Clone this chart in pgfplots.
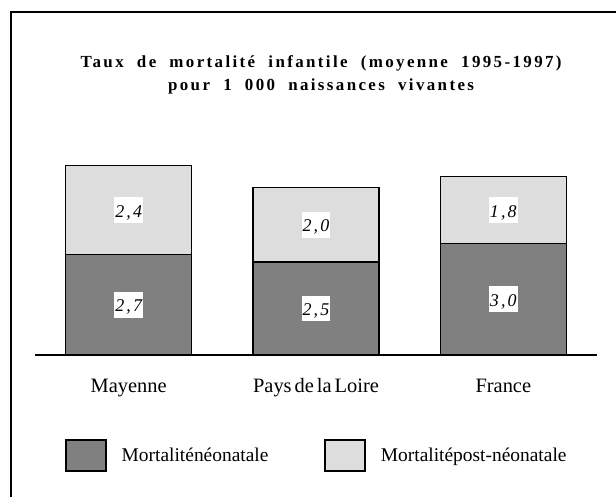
\documentclass[border=0pt]{standalone}
\usepackage{fontspec}
\setmainfont{Liberation Serif}
\newfontfamily\titlefont[LetterSpace=14, WordSpace=2.0]{Liberation Serif}
\newfontfamily\labfont[LetterSpace=12]{Liberation Serif}
\usepackage{pgfplots}
\pgfplotsset{compat=1.18}
\definecolor{darkbar}{HTML}{808080}
\definecolor{lightbar}{HTML}{DDDDDD}
\pgfplotsset{boxlegend/.style={legend image code/.code={\draw[#1] (0bp,-15.5bp) rectangle (40bp,15.5bp);}}}
\begin{document}
\begin{tikzpicture}
\path[use as bounding box] (0,0) rectangle (616bp,497bp);
\draw[line width=1.6bp] (11bp,-2bp) -- (11bp,485bp) -- (620bp,485bp);
\begin{axis}[
  at={(35bp,142bp)}, anchor=south west,
  scale only axis, width=562bp, height=223.2bp,
  xmin=-0.5, xmax=2.5, ymin=0, ymax=6,
  ybar stacked, bar width=126bp,
  axis x line=bottom, axis y line=none,
  axis line style={-, line width=1.5bp},
  xtick={0,1,2},
  xticklabels={Mayenne, Pays\hspace{3bp}de\hspace{3bp}la\hspace{3bp}Loire, France},
  major tick length=0pt,
  xticklabel style={anchor=base, yshift=-37bp, font=\fontsize{20.5}{24}\selectfont},
  title={Taux de mortalité infantile (moyenne 1995-1997)\\pour 1 000 naissances vivantes},
  title style={at={(axis description cs:0.509,1.2298)}, anchor=center, align=center,
    font=\titlefont\bfseries\fontsize{17}{23}\selectfont},
  legend style={at={(axis description cs:0.0534,-0.4503)}, anchor=west, draw=none, fill=none,
    inner sep=0pt, nodes={inner sep=0pt, font=\fontsize{19.5}{22}\selectfont},
    column sep=15bp, /tikz/every even column/.append style={column sep=56bp}},
  legend columns=2,
  nodes near coords, point meta=explicit symbolic,
  every node near coord/.append style={anchor=center,
    fill=white, draw=none, inner xsep=1bp, inner ysep=0pt, text height=20bp, text depth=5.7bp,
    font=\labfont\itshape\fontsize{18}{18}\selectfont, text=black},
  clip=false,
]
\addplot[fill=darkbar, draw=black, line width=1.5bp, boxlegend]
  coordinates {(0,2.7)[{2,7}] (1,2.5)[{2,5}] (2,3.0)[{3,0}]};
\addlegendentry{Mortaliténéonatale}
\addplot[fill=lightbar, draw=black, line width=1.5bp, boxlegend]
  coordinates {(0,2.4)[{2,4}] (1,2.0)[{2,0}] (2,1.8)[{1,8}]};
\addlegendentry{Mortalitépost-néonatale}
\end{axis}
\end{tikzpicture}
\end{document}
